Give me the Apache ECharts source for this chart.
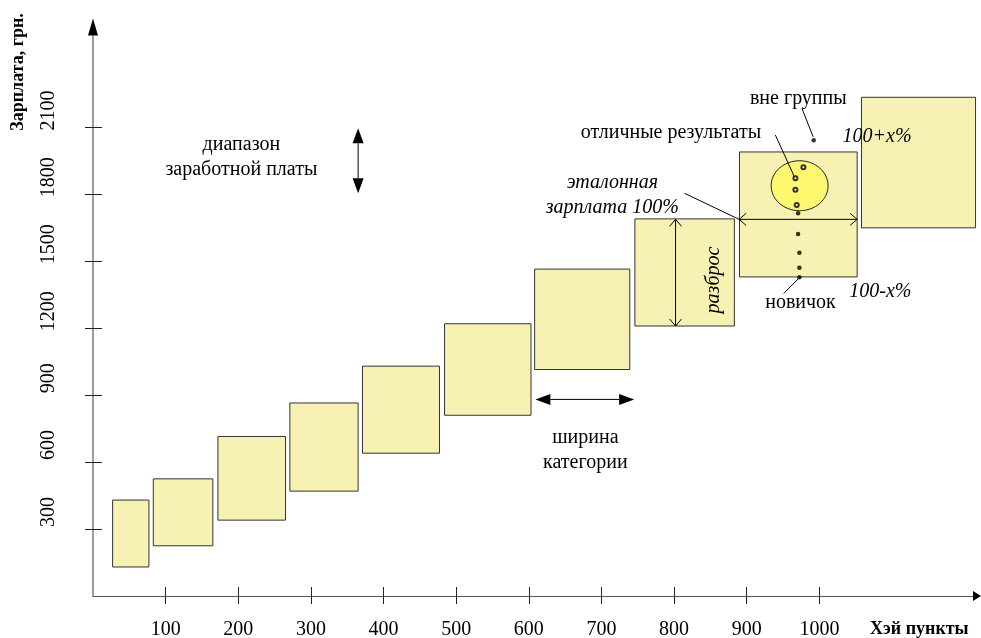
<!DOCTYPE html>
<html>
<head>
<meta charset="utf-8">
<title>Зарплата и Хэй пункты</title>
<script src="https://cdn.jsdelivr.net/npm/echarts@6/dist/echarts.min.js"></script>
<style>
html, body { margin: 0; padding: 0; background: #fff; }
#chart { width: 981px; height: 638px; }
</style>
</head>
<body>
<div id="chart"></div>
<script>
// грейды: границы по Хэй пунктам и вилка зарплаты
var gradeStart = [27, 83, 172, 271, 371, 484, 608, 746, 890, 1058];
var gradeEnd   = [77, 165, 265, 365, 477, 603, 739, 883, 1052, 1215];
var salaryMin  = [130, 225, 340, 470, 640, 810, 1015, 1210, 1430, 1650];
var salaryMax  = [430, 525, 715, 865, 1030, 1220, 1465, 1690, 1990, 2235];

var xTicks = [100, 200, 300, 400, 500, 600, 700, 800, 900, 1000];
var yTicks = [300, 600, 900, 1200, 1500, 1800, 2100];

// сотрудники одного грейда
var staffX = [970.7, 970.7, 972.5, 972.5, 972.5, 992.2];
var staffY = [1715, 1622, 1538, 1471, 1428, 2043];
// отличные результаты
var bestX = [978, 967, 967, 968.8];
var bestY = [1921, 1872, 1821, 1752];
var bestZone = [972.8, 1838.6, 39.2, 112]; // центр, полуоси

// стрелки и выноски: 0 - линия, 1 - залитые концы, 2 - открытые концы
var arrows = [
	[365, 2096, 365, 1805, 1],
	[609, 881, 745, 881, 1],
	[802, 1688, 802, 1210, 2],
	[889.5, 1688, 1052, 1688, 2],
	[814.5, 1804.5, 889.5, 1688, 0],
	[976, 2185, 991.4, 2058, 0],
	[939.4, 2066, 966, 1876, 0],
	[972.9, 1428, 950.9, 1356, 0]
];

// подписи на поле графика
var notes = [
	{ text: 'диапазон\nзаработной платы', x: 204.3, y: 1965 },
	{ text: 'ширина\nкатегории', x: 677.8, y: 654 },
	{ text: 'эталонная\nзарплата 100%', x: 715, y: 1796, italic: true },
	{ text: 'разброс', x: 854, y: 1416, italic: true, rotate: true },
	{ text: 'вне группы', x: 971, y: 2230 },
	{ text: 'отличные результаты', x: 795.6, y: 2075 },
	{ text: '100+x%', x: 1079.4, y: 2058, italic: true },
	{ text: '100-x%', x: 1084, y: 1364, italic: true },
	{ text: 'новичок', x: 974, y: 1312 }
];

var FONT = 'Liberation Serif';
var FS = 20;

var boxData = gradeStart.map(function (s, i) {
	return [s, gradeEnd[i], salaryMin[i], salaryMax[i]];
});

var renderBox = function (params, api) {
	var p0 = api.coord([api.value(0), api.value(3)]);
	var p1 = api.coord([api.value(1), api.value(2)]);
	return {
		type: 'rect',
		shape: { x: p0[0], y: p0[1], width: p1[0] - p0[0], height: p1[1] - p0[1] },
		style: { fill: '#f7f2b4', stroke: '#333', lineWidth: 1 }
	};
};

var renderZone = function (params, api) {
	var c = api.coord([api.value(0), api.value(1)]);
	var s = api.size([api.value(2), api.value(3)]);
	return {
		type: 'ellipse',
		shape: { cx: c[0], cy: c[1], rx: s[0], ry: s[1] },
		style: { fill: '#fdf870', stroke: '#222', lineWidth: 1 }
	};
};

var renderArrow = function (params, api) {
	var a = api.coord([api.value(0), api.value(1)]);
	var b = api.coord([api.value(2), api.value(3)]);
	var kind = api.value(4);
	var dx = b[0] - a[0], dy = b[1] - a[1];
	var len = Math.sqrt(dx * dx + dy * dy);
	var ux = dx / len, uy = dy / len, nx = -uy, ny = ux;
	var hl = kind === 1 ? 15 : 7;
	var hw = kind === 1 ? 5.5 : 6;
	var p = a, q = b;
	if (kind === 1) {
		p = [a[0] + ux * hl, a[1] + uy * hl];
		q = [b[0] - ux * hl, b[1] - uy * hl];
	}
	var kids = [{
		type: 'line',
		shape: { x1: p[0], y1: p[1], x2: q[0], y2: q[1] },
		style: { stroke: '#000', lineWidth: 1, fill: 'none' }
	}];
	if (kind) {
		[[b, 1], [a, -1]].forEach(function (e) {
			var t = e[0], sg = e[1];
			var bx = t[0] - sg * ux * hl, by = t[1] - sg * uy * hl;
			var pts = [[bx + nx * hw, by + ny * hw], [t[0], t[1]], [bx - nx * hw, by - ny * hw]];
			if (kind === 1) {
				kids.push({ type: 'polygon', shape: { points: pts }, style: { fill: '#000', stroke: 'none' } });
			} else {
				kids.push({ type: 'polyline', shape: { points: pts }, style: { stroke: '#000', fill: 'none', lineWidth: 1 } });
			}
		});
	}
	return { type: 'group', children: kids };
};

var renderNote = function (params, api) {
	var n = notes[params.dataIndex];
	var c = api.coord([n.x, n.y]);
	return {
		type: 'text',
		x: c[0],
		y: c[1],
		rotation: n.rotate ? Math.PI / 2 : 0,
		style: {
			text: n.text,
			fill: '#000',
			fontFamily: FONT,
			fontSize: FS,
			fontStyle: n.italic ? 'italic' : 'normal',
			lineHeight: 25,
			align: 'center',
			verticalAlign: 'middle'
		}
	};
};

var plain = function (v) { return String(v); };
var axisText = { fontFamily: FONT, fontSize: FS, color: '#000', formatter: plain };

var option = {
	animation: false,
	backgroundColor: '#fff',
	grid: { left: 93, right: 4, top: 27, bottom: 42, containLabel: false, outerBoundsMode: 'none' },
	xAxis: [
		{
			type: 'value', min: 0, max: 1217, position: 'bottom',
			axisLine: { show: true, onZero: false, lineStyle: { color: '#555', width: 1.2 } },
			axisTick: { show: true, length: 8, customValues: xTicks, lineStyle: { color: '#222' } },
			axisLabel: Object.assign({ customValues: xTicks, margin: 24 }, axisText),
			splitLine: { show: false }
		},
		{
			// внутренние засечки и чёрная стрелка
			type: 'value', min: 0, max: 1217, position: 'bottom',
			axisLine: { show: true, onZero: false, symbol: ['none', 'triangle'], symbolSize: [10, 8],
				lineStyle: { color: '#000', width: 0 } },
			axisTick: { show: true, inside: true, length: 9, customValues: xTicks, lineStyle: { color: '#222', width: 1 } },
			axisLabel: { show: false },
			splitLine: { show: false }
		}
	],
	yAxis: [
		{
			type: 'value', min: 0, max: 2550, position: 'left',
			axisLine: { show: true, onZero: false, lineStyle: { color: '#7a7a7a', width: 1.5 } },
			axisTick: { show: true, length: 8, customValues: yTicks, lineStyle: { color: '#222' } },
			axisLabel: Object.assign({ customValues: yTicks, rotate: 90, margin: 34, padding: [0, 0, 0, 34] }, axisText),
			splitLine: { show: false }
		},
		{
			type: 'value', min: 0, max: 2550, position: 'left',
			axisLine: { show: true, onZero: false, symbol: ['none', 'triangle'], symbolSize: [10, 17],
				lineStyle: { color: '#000', width: 0 } },
			axisTick: { show: true, inside: true, length: 9, customValues: yTicks, lineStyle: { color: '#222', width: 1 } },
			axisLabel: { show: false },
			splitLine: { show: false }
		}
	],
	graphic: [
		{
			type: 'text', x: 18, y: 72, rotation: Math.PI / 2,
			style: { text: 'Зарплата, грн.', fontFamily: FONT, fontSize: 18, fontWeight: 'bold',
				fill: '#000', align: 'center', verticalAlign: 'middle' }
		},
		{
			type: 'text', left: 870, top: 620,
			style: { text: 'Хэй пункты', fontFamily: FONT, fontSize: 18, fontWeight: 'bold', fill: '#000' }
		}
	],
	series: [
		{ name: 'грейды', type: 'custom', z: 2, silent: true, renderItem: renderBox, data: boxData },
		{ name: 'зона', type: 'custom', z: 3, silent: true, renderItem: renderZone, data: [bestZone] },
		{ name: 'стрелки', type: 'custom', z: 4, silent: true, renderItem: renderArrow, data: arrows },
		{
			name: 'отличные', type: 'scatter', z: 5, silent: true, symbol: 'emptyCircle', symbolSize: 4,
			itemStyle: { color: '#000', borderWidth: 0.8 },
			data: bestX.map(function (v, i) { return [v, bestY[i]]; })
		},
		{
			name: 'сотрудники', type: 'scatter', z: 5, silent: true, symbol: 'circle', symbolSize: 4.5,
			itemStyle: { color: '#000' },
			data: staffX.map(function (v, i) { return [v, staffY[i]]; })
		},
		{
			name: 'подписи', type: 'custom', z: 6, silent: true, renderItem: renderNote,
			data: notes.map(function (n) { return [n.x, n.y]; })
		}
	]
};

var myChart = echarts.init(document.getElementById('chart'), null, { renderer: 'canvas' });
myChart.setOption(option);
</script>
</body>
</html>
